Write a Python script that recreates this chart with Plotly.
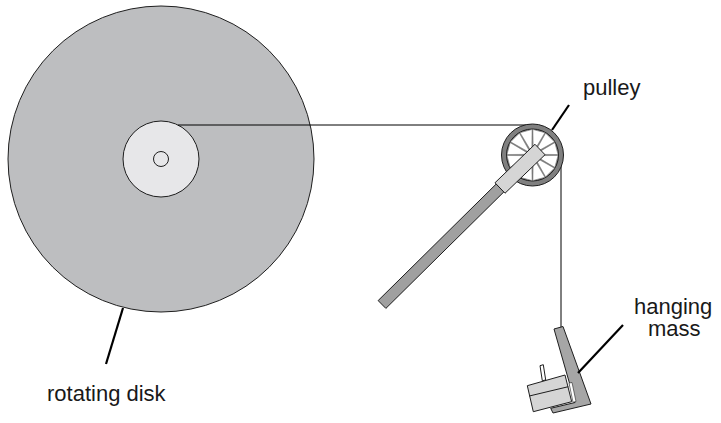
import numpy as np
import plotly.graph_objects as go

W, H = 721, 423

# geometry (pixel units, y downwards)
disk_center = [161, 159]
disk_radii = [153, 38, 7.5]          # disk, hub, axle hole
pulley_center = [532.5, 155]
pulley_radii = [31, 26, 5]           # outer ring, inner ring, hub
n_spokes = 12
string_y = 125
string_x = 561
string_end_y = 327
rod_start = [382, 304.5]
rod_end = [500, 188]
sleeve_end = [540, 149.5]
rod_width = 11
sleeve_width = 14.5

bracket = [(554, 329), (563, 326.5), (591, 404), (553, 413), (550.7, 408.3), (575, 402.5)]
bracket_slot = [(569, 383), (572, 382.5), (576, 401.5), (573, 402.3)]
motor = [(527.3, 385.7), (565, 375), (571.7, 401.7), (533.3, 411.7)]
motor_seam = [(529.3, 396), (568.3, 386.7)]
shaft = [(540, 365.7), (543.3, 364.7), (545.7, 380), (542.3, 380.7)]

labels = ["rotating disk", "pulley", "hanging", "mass"]
label_pos = [(107, 393), (611, 87), (673, 306), (674, 328)]
leaders = [[(123, 308), (106, 364)], [(569, 105), (552, 130)], [(623, 325), (578, 373)]]

disk_grey = "rgb(189,190,192)"
hub_grey = "rgb(231,231,233)"
dark_grey = "rgb(128,128,128)"
rod_grey = "rgb(160,160,160)"
sleeve_grey = "rgb(213,213,213)"
edge = "rgb(30,30,30)"


def poly_path(pts):
    return "M " + " L ".join(f"{x:.2f},{y:.2f}" for x, y in pts) + " Z"


def bar_poly(p0, p1, w):
    p0, p1 = np.array(p0, float), np.array(p1, float)
    d = (p1 - p0) / np.linalg.norm(p1 - p0)
    n = np.array([-d[1], d[0]]) * w / 2
    return [tuple(p0 + n), tuple(p1 + n), tuple(p1 - n), tuple(p0 - n)]


def circle(c, r, fill, lw=1, color=edge):
    return dict(type="circle", xref="x", yref="y", x0=c[0] - r, x1=c[0] + r,
                y0=c[1] - r, y1=c[1] + r, fillcolor=fill, line=dict(color=color, width=lw),
                layer="above")


def path(pts, fill, lw=1, color=edge, closed=True):
    if closed:
        p = poly_path(pts)
    else:
        p = "M " + " L ".join(f"{x},{y}" for x, y in pts)
    return dict(type="path", xref="x", yref="y", path=p, fillcolor=fill,
                line=dict(color=color, width=lw), layer="above")


shapes = []
# rotating disk with hub and hole
shapes.append(circle(disk_center, disk_radii[0], disk_grey))
shapes.append(circle(disk_center, disk_radii[1], hub_grey))
shapes.append(circle(disk_center, disk_radii[2], hub_grey))

# string from hub over the pulley and down to the mass
hub_x = disk_center[0] + np.sqrt(disk_radii[1] ** 2 - (disk_center[1] - string_y) ** 2)
shapes.append(path([(hub_x, string_y), (pulley_center[0], string_y)], None, 1, "black", closed=False))
shapes.append(path([(string_x, pulley_center[1]), (string_x, string_end_y)], None, 1, "black", closed=False))
shapes.append(dict(type="path", xref="x", yref="y", layer="above",
                   path=f"M {string_x},{string_end_y} Q {string_x - 0.5},{string_end_y + 8} {string_x - 3.5},{string_end_y + 10}",
                   line=dict(color="black", width=1)))

# pulley wheel
shapes.append(circle(pulley_center, pulley_radii[0], dark_grey))
shapes.append(circle(pulley_center, pulley_radii[1], dark_grey))
cx, cy = pulley_center
for k in range(n_spokes):
    a = np.deg2rad(k * 360 / n_spokes + 15)
    ri, ro = pulley_radii[2], pulley_radii[1] - 0.5
    hi, ho = np.deg2rad(7), np.deg2rad(14)
    pts = [(cx + ri * np.cos(a - hi), cy + ri * np.sin(a - hi)),
           (cx + ro * np.cos(a - ho), cy + ro * np.sin(a - ho)),
           (cx + ro * np.cos(a + ho), cy + ro * np.sin(a + ho)),
           (cx + ri * np.cos(a + hi), cy + ri * np.sin(a + hi))]
    shapes.append(path(pts, "white", 0.5, "rgb(110,110,110)"))

# support rod and sleeve
shapes.append(path(bar_poly(rod_start, rod_end, rod_width), rod_grey, 1))
shapes.append(path(bar_poly(rod_end, sleeve_end, sleeve_width), sleeve_grey, 1))

# hanging mass
shapes.append(path(bracket, "rgb(166,166,166)", 1))
shapes.append(path(bracket_slot, "white", 0.6))
shapes.append(path(shaft, "white", 1))
shapes.append(path(motor, sleeve_grey, 1))
shapes.append(path(motor_seam, None, 1, edge, closed=False))

# leader lines
for seg in leaders:
    shapes.append(path(seg, None, 2.2, "black", closed=False))

fig = go.Figure()
for txt, (x, y) in zip(labels, label_pos):
    fig.add_annotation(x=x, y=y, text=txt, showarrow=False, xref="x", yref="y",
                       xanchor="center", yanchor="middle",
                       font=dict(family="Liberation Sans, Arial, sans-serif", size=22,
                                 color="rgb(25,25,25)"))

fig.update_layout(
    width=W, height=H, margin=dict(l=0, r=0, t=0, b=0),
    paper_bgcolor="white", plot_bgcolor="white", showlegend=False,
    shapes=shapes,
    xaxis=dict(range=[0, W], visible=False, fixedrange=True),
    yaxis=dict(range=[H, 0], visible=False, fixedrange=True),
)
fig.write_html("out.html", config={"displayModeBar": False},
               post_script="document.body.style.margin='0';document.body.style.overflow='hidden';")
